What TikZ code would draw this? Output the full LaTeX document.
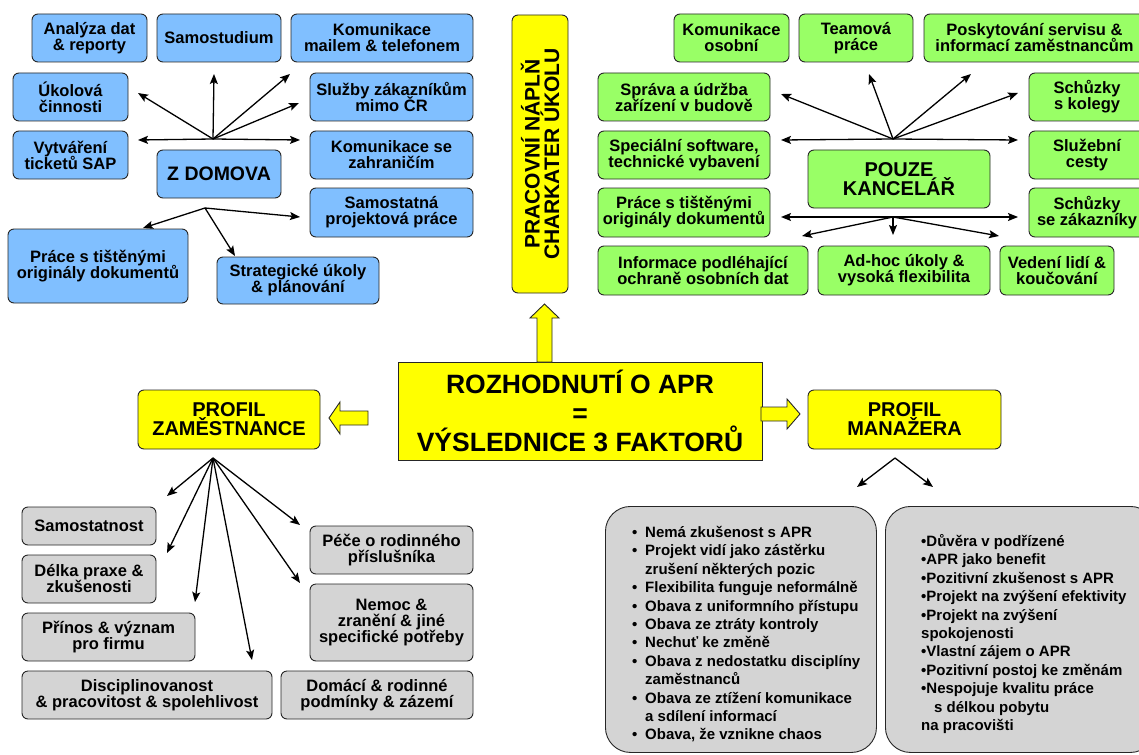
\documentclass[tikz,border=0pt]{standalone}
\usepackage{fontspec}
\setmainfont{Liberation Sans}
\usetikzlibrary{arrows.meta}
\definecolor{boxblue}{HTML}{80BFFF}
\definecolor{boxgreen}{HTML}{99FF66}
\definecolor{boxgray}{HTML}{D4D4D4}
\definecolor{boxyellow}{HTML}{FFFF00}
\newcommand{\blt}{\makebox[13pt][l]{•}}
\newcommand{\ind}{\hspace*{13pt}}
\begin{document}
\begin{tikzpicture}[x=1pt,y=-1pt,
  base/.style={draw=black!85, line width=0.9pt, rounded corners=6pt, align=center,
    inner sep=0pt, font={\bfseries\fontsize{16.5}{16}\selectfont\lineskiplimit=-20pt}},
  bluebox/.style={base, fill=boxblue},
  greenbox/.style={base, fill=boxgreen},
  graybox/.style={base, fill=boxgray},
  yelbox/.style={base, fill=boxyellow, font={\bfseries\fontsize{20}{19}\selectfont\lineskiplimit=-20pt}},
  link/.style={line width=1.3pt, -{Stealth[length=10pt,width=8pt,inset=2pt]}},
  blockarrow/.style={draw=black!85, line width=0.9pt, fill=boxyellow, line join=miter},
  listbox/.style={draw=black!85, line width=0.9pt, fill=boxgray, rounded corners=25pt, inner sep=0pt},
  listtext/.style={inner sep=0pt, anchor=base west, font=\bfseries\fontsize{15}{18.4}\selectfont}
]
\useasboundingbox (0,0) rectangle (1139,754);
\clip (0,0) rectangle (1139,754);

% ---------- working from home (blue) ----------
\node[bluebox, minimum width=115, minimum height=48] (ana) at (89.5,38) {Analýza dat\\\& reporty};
\node[bluebox, minimum width=124, minimum height=48] (samst) at (219,38) {Samostudium};
\node[bluebox, minimum width=182, minimum height=48] (kmail) at (382,38) {Komunikace\\mailem \& telefonem};
\node[bluebox, minimum width=115, minimum height=48] (ukol) at (70.5,97) {Úkolová\\činnosti};
\node[bluebox, minimum width=163, minimum height=48] (sluz) at (391.5,97) {Služby zákazníkům\\mimo ČR};
\node[bluebox, minimum width=115, minimum height=48] (vyt) at (70.5,155) {Vytváření\\ticketů SAP};
\node[bluebox, minimum width=163, minimum height=48] (kzah) at (391.5,155) {Komunikace se\\zahraničím};
\node[bluebox, minimum width=124, minimum height=48, font=\bfseries\fontsize{19.5}{19}\selectfont] (zdom) at (219,174) {Z DOMOVA};
\node[bluebox, minimum width=163, minimum height=49] (spp) at (391.5,212.5) {Samostatná\\projektová práce};
\node[bluebox, minimum width=180, minimum height=74] (prtb) at (98,266) {Práce s tištěnými\\originály dokumentů};
\node[bluebox, minimum width=162, minimum height=47] (strat) at (298,280.5) {Strategické úkoly\\\& plánování};

\coordinate (hb1) at (213,139);
\coordinate (hb2) at (205,208);
\coordinate (tb1) at (138,93);
\coordinate (tb2) at (214,74);
\coordinate (tb3) at (290,74);
\coordinate (tb4) at (299,103);
\coordinate (tb5) at (138,140);
\coordinate (tb6) at (300,140);
\coordinate (tb7) at (143,228);
\coordinate (tb8) at (300,217);
\coordinate (tb9) at (235,256);
\foreach \t in {tb1,tb2,tb3,tb4,tb5,tb6} \draw[link] (hb1) -- (\t);
\foreach \t in {tb7,tb8,tb9} \draw[link] (hb2) -- (\t);

% ---------- office only (green) ----------
\node[greenbox, minimum width=115, minimum height=48] (kos) at (731.5,38) {Komunikace\\osobní};
\node[greenbox, minimum width=114, minimum height=48] (team) at (856,38) {Teamová\\práce};
\node[greenbox, minimum width=221, minimum height=48] (posk) at (1034.5,38) {Poskytování servisu \&\\informací zaměstnancům};
\node[greenbox, minimum width=172, minimum height=48] (sprava) at (684,97) {Správa a údržba\\zařízení v budově};
\node[greenbox, minimum width=172, minimum height=48] (spec) at (684,155) {Speciální software,\\technické vybavení};
\node[greenbox, minimum width=172, minimum height=49] (prtg) at (684,212.5) {Práce s tištěnými\\originály dokumentů};
\node[greenbox, minimum width=210, minimum height=49] (info) at (703,270.5) {Informace podléhající\\ochraně osobních dat};
\node[greenbox, minimum width=172, minimum height=49] (adhoc) at (904,270.5) {Ad-hoc úkoly \&\\vysoká flexibilita};
\node[greenbox, minimum width=114, minimum height=49] (vedeni) at (1057,270.5) {Vedení lidí \&\\koučování};
\node[greenbox, minimum width=182, minimum height=58, font={\bfseries\fontsize{20}{19}\selectfont\lineskiplimit=-20pt}] (pouze) at (899,179) {POUZE\\KANCELÁŘ};
\node[greenbox, minimum width=116, minimum height=48] (skol) at (1087,97) {Schůzky\\s kolegy};
\node[greenbox, minimum width=116, minimum height=48] (scest) at (1087,155) {Služební\\cesty};
\node[greenbox, minimum width=116, minimum height=49] (szak) at (1087,212.5) {Schůzky\\se zákazníky};

\coordinate (hg1) at (893,139);
\coordinate (hg2) at (893,217);
\coordinate (tg1) at (781,94);
\coordinate (tg2) at (869,74);
\coordinate (tg3) at (971,74);
\coordinate (tg4) at (1018,93);
\coordinate (tg5) at (781,140);
\coordinate (tg6) at (1018,140);
\coordinate (tg7) at (781,217);
\coordinate (tg8) at (1018,217);
\coordinate (tg9) at (802,236);
\coordinate (tg10) at (893,235);
\coordinate (tg11) at (999,236);
\foreach \t in {tg1,tg2,tg3,tg4,tg5,tg6} \draw[link] (hg1) -- (\t);
\foreach \t in {tg7,tg8,tg9,tg10,tg11} \draw[link] (hg2) -- (\t);

% ---------- decision and its three factors (yellow) ----------
\node[yelbox, rotate=90, minimum width=278, minimum height=56,
  font={\bfseries\fontsize{21}{19.5}\selectfont\lineskiplimit=-20pt}] (napln) at (540,154) {PRACOVNÍ NÁPLŇ\\CHARKATER ÚKOLU};
\node[yelbox, rounded corners=0pt, minimum width=364, minimum height=98,
  font={\bfseries\fontsize{26.5}{29}\selectfont\lineskiplimit=-20pt}] (rozh) at (580,411) {ROZHODNUTÍ O APR\\=\\VÝSLEDNICE 3 FAKTORŮ};
\node[yelbox, minimum width=182, minimum height=59] (pzam) at (229,419.5) {PROFIL\\ZAMĚSTNANCE};
\node[yelbox, minimum width=193, minimum height=59] (pman) at (904.5,419.5) {PROFIL\\MANAŽERA};

% block arrows from the decision box
\draw[blockarrow] (537,362) -- (537,318) -- (530,318) -- (544.5,304) -- (559,318) -- (552,318) -- (552,362) -- cycle;
\draw[blockarrow] (368,411) -- (340,411) -- (340,402) -- (329,418) -- (340,434) -- (340,425) -- (368,425) -- cycle;
\draw[blockarrow] (761,407) -- (787,407) -- (787,399) -- (800,414) -- (787,429) -- (787,421) -- (761,421) -- cycle;

% ---------- employee profile (gray) ----------
\node[graybox, minimum width=134, minimum height=38] (samo) at (89,526) {Samostatnost};
\node[graybox, minimum width=134, minimum height=48] (delka) at (89,579) {Délka praxe \&\\zkušenosti};
\node[graybox, minimum width=173, minimum height=48] (prinos) at (108.5,637) {Přínos \& význam\\pro firmu};
\node[graybox, minimum width=250, minimum height=48] (disc) at (147,695) {Disciplinovanost\\\& pracovitost \& spolehlivost};
\node[graybox, minimum width=163, minimum height=48] (pece) at (391.5,550) {Péče o rodinného\\příslušníka};
\node[graybox, minimum width=163, minimum height=77] (nemoc) at (391.5,622.5) {Nemoc \&\\zranění \& jiné\\specifické potřeby};
\node[graybox, minimum width=192, minimum height=48] (domaci) at (377,695) {Domácí \& rodinné\\podmínky \& zázemí};

\coordinate (hz) at (213,458);
\coordinate (tz1) at (167,496);
\coordinate (tz2) at (167,553);
\coordinate (tz3) at (195,602);
\coordinate (tz4) at (252,660);
\coordinate (tz5) at (300,525);
\coordinate (tz6) at (300,583);
\foreach \t in {tz1,tz2,tz3,tz4,tz5,tz6} \draw[link] (hz) -- (\t);

% ---------- manager profile ----------
\coordinate (hm) at (895,458);
\coordinate (tm1) at (857,487);
\coordinate (tm2) at (933,487);
\draw[link] (hm) -- (tm1);
\draw[link] (hm) -- (tm2);

\node[listbox, anchor=north west, minimum width=271, minimum height=246] (neg) at (605,506) {};
\node[listbox, anchor=north west, minimum width=270, minimum height=246] (pos) at (885,506) {};

\node[listtext] (negtext) at (632,537.5) {\parbox[t]{240pt}{\raggedright
\blt Nemá zkušenost s APR\\
\blt Projekt vidí jako zástěrku\\
\ind zrušení některých pozic\\
\blt Flexibilita funguje neformálně\\
\blt Obava z uniformního přístupu\\
\blt Obava ze ztráty kontroly\\
\blt Nechuť ke změně\\
\blt Obava z nedostatku disciplíny\\
\ind zaměstnanců\\
\blt Obava ze ztížení komunikace\\
\ind a sdílení informací\\
\blt Obava, že vznikne chaos}};

\node[listtext] (postext) at (921,546.5) {\parbox[t]{215pt}{\raggedright
•Důvěra v podřízené\\
•APR jako benefit\\
•Pozitivní zkušenost s APR\\
•Projekt na zvýšení efektivity\\
•Projekt na zvýšení\\
spokojenosti\\
•Vlastní zájem o APR\\
•Pozitivní postoj ke změnám\\
•Nespojuje kvalitu práce\\
\ind s délkou pobytu\\
na pracovišti}};
\end{tikzpicture}
\end{document}
